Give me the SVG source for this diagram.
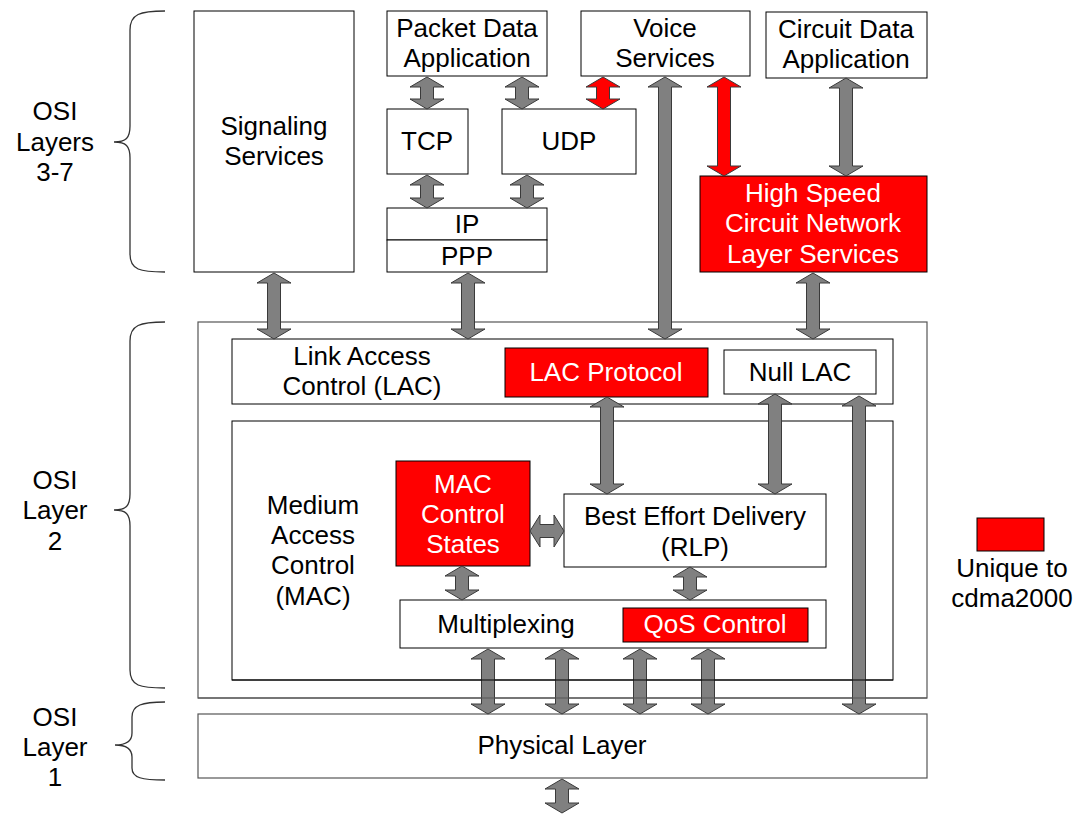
<svg xmlns="http://www.w3.org/2000/svg" width="1074" height="814" viewBox="0 0 1074 814">
  <style>
    text { font-family: "Liberation Sans", Arial, sans-serif; font-size: 26px; fill: #000; text-anchor: middle; }
    .box { fill: #fff; stroke: #000; stroke-width: 1; }
    .frame { fill: #fff; stroke: #555; stroke-width: 1.2; }
    .red { fill: #ff0000; stroke: #000; stroke-width: 1; }
    .red-text { fill: #fff; }
    .arrow { fill: #808080; stroke: #3a3a3a; stroke-width: 1; }
    .arrow-red { fill: #ff0000; stroke: #3a3a3a; stroke-width: 1; }
    .brace { fill: none; stroke: #333; stroke-width: 1.3; }
  </style>
  <rect width="1074" height="814" fill="#fff"/>

  <!-- OSI layer braces and labels -->
  <g id="osi-labels">
    <path class="brace" d="M165,11 C140,11 130,14 130,30 L130,126 C130,138 126,142 114,142 C126,142 130,146 130,158 L130,254 C130,270 140,272 165,272"/>
    <text x="55" y="120">OSI</text>
    <text x="55" y="151">Layers</text>
    <text x="55" y="181">3-7</text>
    <path class="brace" d="M165,322 C140,322 130,325 130,341 L130,494 C130,506 126,510 114,510 C126,510 130,514 130,526 L130,670 C130,686 140,688 165,688"/>
    <text x="55" y="489">OSI</text>
    <text x="55" y="519">Layer</text>
    <text x="55" y="550">2</text>
    <path class="brace" d="M165,702 C142,702 132,705 132,717 L132,733 C132,741 126,745 115,745 C126,745 132,749 132,757 L132,768 C132,778 142,780 165,780"/>
    <text x="55" y="726">OSI</text>
    <text x="55" y="756">Layer</text>
    <text x="55" y="786">1</text>
  </g>

  <!-- Layer 2 container frames -->
  <g id="layer2">
    <rect class="frame" x="198" y="322" width="729" height="376"/>
  </g>
  <g id="lac">
    <rect class="box" x="232" y="339" width="661" height="65"/>
    <text x="362" y="365">Link Access</text>
    <text x="362" y="395">Control (LAC)</text>
  </g>
  <g id="lac-protocol">
    <rect class="red" x="505" y="348" width="203" height="49"/>
    <text class="red-text" x="606" y="381">LAC Protocol</text>
  </g>
  <g id="null-lac">
    <rect class="box" x="724" y="350" width="152" height="44"/>
    <text x="800" y="381">Null LAC</text>
  </g>
  <g id="mac">
    <rect class="box" x="232" y="421" width="661" height="259"/>
    <text x="313" y="514">Medium</text>
    <text x="313" y="544">Access</text>
    <text x="313" y="574">Control</text>
    <text x="313" y="605">(MAC)</text>
  </g>
  <g id="mac-control-states">
    <rect class="red" x="396" y="461" width="134" height="105"/>
    <text class="red-text" x="463" y="493">MAC</text>
    <text class="red-text" x="463" y="523">Control</text>
    <text class="red-text" x="463" y="553">States</text>
  </g>
  <g id="best-effort">
    <rect class="box" x="564" y="494" width="262" height="73"/>
    <text x="695" y="525">Best Effort Delivery</text>
    <text x="695" y="556">(RLP)</text>
  </g>
  <g id="multiplexing">
    <rect class="box" x="400" y="600" width="426" height="48"/>
    <text x="506" y="633">Multiplexing</text>
  </g>
  <g id="qos-control">
    <rect class="red" x="623" y="608" width="185" height="34"/>
    <text class="red-text" x="715" y="633">QoS Control</text>
  </g>
  <g id="physical">
    <rect class="frame" x="198" y="714" width="729" height="64"/>
    <text x="562" y="754">Physical Layer</text>
  </g>

  <!-- Upper layer services -->
  <g id="signaling">
    <rect class="box" x="194" y="11" width="160" height="261"/>
    <text x="274" y="135">Signaling</text>
    <text x="274" y="165">Services</text>
  </g>
  <g id="packet-data">
    <rect class="box" x="387" y="11" width="160" height="65"/>
    <text x="467" y="37">Packet Data</text>
    <text x="467" y="67">Application</text>
  </g>
  <g id="voice">
    <rect class="box" x="581" y="11" width="169" height="65"/>
    <text x="665" y="37">Voice</text>
    <text x="665" y="67">Services</text>
  </g>
  <g id="circuit-data">
    <rect class="box" x="766" y="12" width="161" height="66"/>
    <text x="846" y="38">Circuit Data</text>
    <text x="846" y="68">Application</text>
  </g>
  <g id="tcp">
    <rect class="box" x="387" y="109" width="81" height="65"/>
    <text x="427" y="150">TCP</text>
  </g>
  <g id="udp">
    <rect class="box" x="502" y="109" width="134" height="65"/>
    <text x="569" y="150">UDP</text>
  </g>
  <g id="ip">
    <rect class="box" x="387" y="208" width="160" height="32"/>
    <text x="467" y="233">IP</text>
  </g>
  <g id="ppp">
    <rect class="box" x="387" y="240" width="160" height="32"/>
    <text x="467" y="265">PPP</text>
  </g>
  <g id="high-speed-circuit">
    <rect class="red" x="700" y="176" width="227" height="96"/>
    <text class="red-text" x="813" y="202">High Speed</text>
    <text class="red-text" x="813" y="232">Circuit Network</text>
    <text class="red-text" x="813" y="263">Layer Services</text>
  </g>

  <!-- Legend -->
  <g id="legend">
    <rect class="red" x="977" y="518" width="67" height="33"/>
    <text x="1012" y="577">Unique to</text>
    <text x="1012" y="607">cdma2000</text>
  </g>

  <!-- Double-headed block arrows between layers -->
  <g id="connectors">
    <path class="arrow" d="M274,273 L291,283 L280.5,283 L280.5,329 L291,329 L274,339 L257,329 L267.5,329 L267.5,283 L257,283 Z"/>
    <path class="arrow" d="M468,273 L485,283 L474.5,283 L474.5,329 L485,329 L468,339 L451,329 L461.5,329 L461.5,283 L451,283 Z"/>
    <path class="arrow" d="M427,77 L444,87 L433.5,87 L433.5,99 L444,99 L427,109 L410,99 L420.5,99 L420.5,87 L410,87 Z"/>
    <path class="arrow" d="M522,77 L539,87 L528.5,87 L528.5,99 L539,99 L522,109 L505,99 L515.5,99 L515.5,87 L505,87 Z"/>
    <path class="arrow-red" d="M603,77 L620,87 L609.5,87 L609.5,99 L620,99 L603,109 L586,99 L596.5,99 L596.5,87 L586,87 Z"/>
    <path class="arrow" d="M427,175 L444,185 L433.5,185 L433.5,198 L444,198 L427,208 L410,198 L420.5,198 L420.5,185 L410,185 Z"/>
    <path class="arrow" d="M527,175 L544,185 L533.5,185 L533.5,198 L544,198 L527,208 L510,198 L520.5,198 L520.5,185 L510,185 Z"/>
    <path class="arrow" d="M665,77 L682,87 L671.5,87 L671.5,329 L682,329 L665,339 L648,329 L658.5,329 L658.5,87 L648,87 Z"/>
    <path class="arrow-red" d="M724,77 L741,87 L730.5,87 L730.5,166 L741,166 L724,176 L707,166 L717.5,166 L717.5,87 L707,87 Z"/>
    <path class="arrow" d="M846,78 L863,88 L852.5,88 L852.5,166 L863,166 L846,176 L829,166 L839.5,166 L839.5,88 L829,88 Z"/>
    <path class="arrow" d="M813,273 L830,283 L819.5,283 L819.5,329 L830,329 L813,339 L796,329 L806.5,329 L806.5,283 L796,283 Z"/>
    <path class="arrow" d="M607,397 L624,407 L613.5,407 L613.5,484 L624,484 L607,494 L590,484 L600.5,484 L600.5,407 L590,407 Z"/>
    <path class="arrow" d="M775,394 L792,404 L781.5,404 L781.5,484 L792,484 L775,494 L758,484 L768.5,484 L768.5,404 L758,404 Z"/>
    <path class="arrow" d="M859,396 L876,406 L865.5,406 L865.5,704 L876,704 L859,714 L842,704 L852.5,704 L852.5,406 L842,406 Z"/>
    <path class="arrow" d="M530,531 L540,515 L540,524.5 L554,524.5 L554,515 L564,531 L554,547 L554,537.5 L540,537.5 L540,547 Z"/>
    <path class="arrow" d="M462,566 L479,576 L468.5,576 L468.5,590 L479,590 L462,600 L445,590 L455.5,590 L455.5,576 L445,576 Z"/>
    <path class="arrow" d="M690,567 L707,577 L696.5,577 L696.5,590 L707,590 L690,600 L673,590 L683.5,590 L683.5,577 L673,577 Z"/>
    <path class="arrow" d="M488,649 L505,659 L494.5,659 L494.5,704 L505,704 L488,714 L471,704 L481.5,704 L481.5,659 L471,659 Z"/>
    <path class="arrow" d="M562,649 L579,659 L568.5,659 L568.5,704 L579,704 L562,714 L545,704 L555.5,704 L555.5,659 L545,659 Z"/>
    <path class="arrow" d="M640,649 L657,659 L646.5,659 L646.5,704 L657,704 L640,714 L623,704 L633.5,704 L633.5,659 L623,659 Z"/>
    <path class="arrow" d="M708,649 L725,659 L714.5,659 L714.5,704 L725,704 L708,714 L691,704 L701.5,704 L701.5,659 L691,659 Z"/>
    <path class="arrow" d="M562,779 L579,789 L568.5,789 L568.5,803 L579,803 L562,813 L545,803 L555.5,803 L555.5,789 L545,789 Z"/>
  </g>

  <!-- Lower frame edges run across the multiplexing arrows -->
  <g id="frame-edges">
    <line x1="232" y1="680" x2="893" y2="680" stroke="#000" stroke-width="1"/>
    <line x1="198" y1="698" x2="927" y2="698" stroke="#555" stroke-width="1.2"/>
  </g>
</svg>
